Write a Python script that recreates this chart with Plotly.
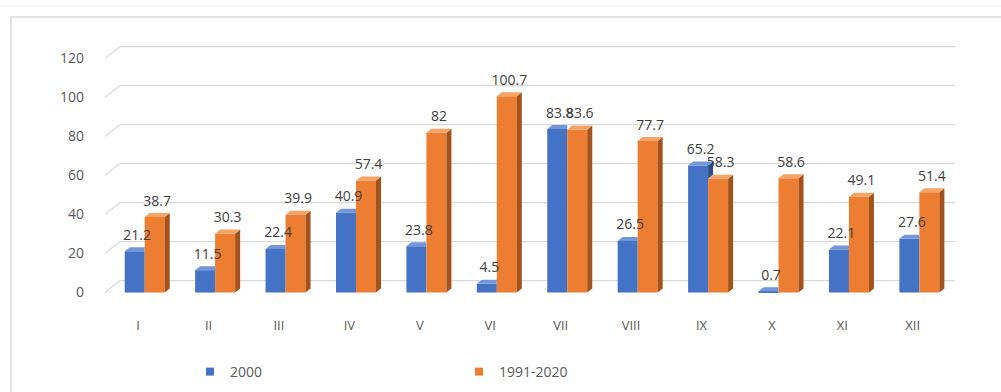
import plotly.graph_objects as go

# ---- data -------------------------------------------------------------
months = ["I", "II", "III", "IV", "V", "VI", "VII", "VIII", "IX", "X", "XI", "XII"]
rain_2000 = [21.2, 11.5, 22.4, 40.9, 23.8, 4.5, 83.8, 26.5, 65.2, 0.7, 22.1, 27.6]
rain_norm = [38.7, 30.3, 39.9, 57.4, 82, 100.7, 83.6, 77.7, 58.3, 58.6, 49.1, 51.4]
y_ticks = [0, 20, 40, 60, 80, 100, 120]
series_names = ["2000", "1991-2020"]

# ---- page geometry ----------------------------------------------------
W, H = 1001, 392
ML, MR, MT, MB = 105, 46, 39, 76
X_RANGE = [-0.47, 11.6]
Y_RANGE = [-12, 130]
plot_w = W - ML - MR
plot_h = H - MT - MB
ux = plot_w / (X_RANGE[1] - X_RANGE[0])   # px per category unit
uy = plot_h / (Y_RANGE[1] - Y_RANGE[0])   # px per value unit

BW = 20 / ux                  # bar front width
OFF_A = -0.19                 # left edge of first bar relative to category
OFF_B = OFF_A + BW
DDX, DDY = 5 / ux, 4 / uy     # bar depth (3-D look)
WDX, WDY = 15 / ux, 12 / uy   # back-wall offset of the gridlines
LABEL_GAP = 4 / uy            # extra space between bar top and its label

BLUE, BLUE_TOP, BLUE_SIDE = "#4472C4", "#7396DA", "#2C4E8E"
ORANGE, ORANGE_TOP, ORANGE_SIDE = "#ED7D31", "#F6A366", "#A4521B"
TXT = "#595959"
FONT = "Open Sans"


def px_to_paper_x(px):
    return (px - ML) / plot_w


def px_to_paper_y(py):
    return (H - MB - py) / plot_h


def faces(values, offset, front_of=None):
    """Top and side polygons of the bars, separated by None gaps."""
    tx, ty, sx, sy = [], [], [], []
    for i, v in enumerate(values):
        xl = i + offset
        xr = xl + BW
        other = None if front_of is None else front_of[i]
        right = xr + DDX if (other is None or v > other + DDY) else xr
        tx += [xl, xl + DDX, right, xr, xl, None]
        ty += [v, v + DDY, v + DDY, v, v, None]
        base = 0 if other is None else max(0, other)
        if v > base:
            sx += [xr, xr + DDX, xr + DDX, xr, xr, None]
            sy += [base, base + DDY, v + DDY, v, base, None]
    return tx, ty, sx, sy


xs = list(range(len(months)))
fig = go.Figure()

# front faces
fig.add_trace(go.Bar(x=xs, y=rain_2000, width=BW, offset=OFF_A, marker_color=BLUE,
                     marker_line_width=0, showlegend=False, hoverinfo="skip"))
fig.add_trace(go.Bar(x=xs, y=rain_norm, width=BW, offset=OFF_B, marker_color=ORANGE,
                     marker_line_width=0, showlegend=False, hoverinfo="skip"))

# depth faces
for vals, off, other, top_c, side_c in [
    (rain_2000, OFF_A, rain_norm, BLUE_TOP, BLUE_SIDE),
    (rain_norm, OFF_B, None, ORANGE_TOP, ORANGE_SIDE),
]:
    tx, ty, sx, sy = faces(vals, off, other)
    if sx:
        fig.add_trace(go.Scatter(x=sx, y=sy, fill="toself", fillcolor=side_c, mode="lines",
                                 line=dict(width=0, color=side_c), showlegend=False,
                                 hoverinfo="skip"))
    fig.add_trace(go.Scatter(x=tx, y=ty, fill="toself", fillcolor=top_c, mode="lines",
                             line=dict(width=0, color=top_c), showlegend=False,
                             hoverinfo="skip"))

# value labels
for vals, off in [(rain_2000, OFF_A), (rain_norm, OFF_B)]:
    fig.add_trace(go.Scatter(
        x=[i + off + BW / 2 + DDX / 2 for i in xs], y=[v + DDY + LABEL_GAP for v in vals],
        mode="text", text=[f"{v:g}" for v in vals], textposition="top center",
        textfont=dict(family=FONT, size=14, color="#404040"),
        showlegend=False, hoverinfo="skip"))

# legend entries
for name, col in zip(series_names, [BLUE, ORANGE]):
    fig.add_trace(go.Scatter(x=[None], y=[None], mode="markers", name=name,
                             marker=dict(symbol="square", size=8, color=col)))

# back-wall gridlines
shapes = []
for t in y_ticks:
    shapes.append(dict(type="line", xref="x", yref="y", layer="below",
                       x0=X_RANGE[0] + WDX, x1=X_RANGE[1], y0=t + WDY, y1=t + WDY,
                       line=dict(color="#D9D9D9", width=1.3)))
    shapes.append(dict(type="line", xref="x", yref="y", layer="below",
                       x0=X_RANGE[0], x1=X_RANGE[0] + WDX, y0=t, y1=t + WDY,
                       line=dict(color="#D9D9D9", width=1.3)))

# chart frame
shapes.append(dict(type="rect", xref="paper", yref="paper", layer="below",
                   x0=px_to_paper_x(11), x1=px_to_paper_x(1010),
                   y0=px_to_paper_y(400), y1=px_to_paper_y(17),
                   line=dict(color="#D9D9D9", width=1.5)))
shapes.append(dict(type="line", xref="paper", yref="paper", layer="below",
                   x0=px_to_paper_x(0), x1=px_to_paper_x(1001),
                   y0=px_to_paper_y(6), y1=px_to_paper_y(6),
                   line=dict(color="#F0F0F0", width=1)))

fig.update_layout(
    width=W, height=H,
    margin=dict(l=ML, r=MR, t=MT, b=MB, pad=0, autoexpand=False),
    paper_bgcolor="white", plot_bgcolor="white",
    barmode="overlay",
    shapes=shapes,
    xaxis=dict(range=X_RANGE, tickvals=xs, ticktext=months, showgrid=False,
               zeroline=False, showline=False, ticks="",
               tickfont=dict(family=FONT, size=13, color=TXT)),
    yaxis=dict(range=Y_RANGE, tickvals=y_ticks, showgrid=False, zeroline=False,
               showline=False, ticks="", ticklabelstandoff=20,
               tickfont=dict(family=FONT, size=14, color=TXT)),
    legend=dict(orientation="h", x=px_to_paper_x(190), y=px_to_paper_y(372),
                xanchor="left", yanchor="middle", entrywidth=224, entrywidthmode="pixels",
                font=dict(family=FONT, size=14, color=TXT), bgcolor="rgba(0,0,0,0)"),
)

fig.write_html("out.html")
